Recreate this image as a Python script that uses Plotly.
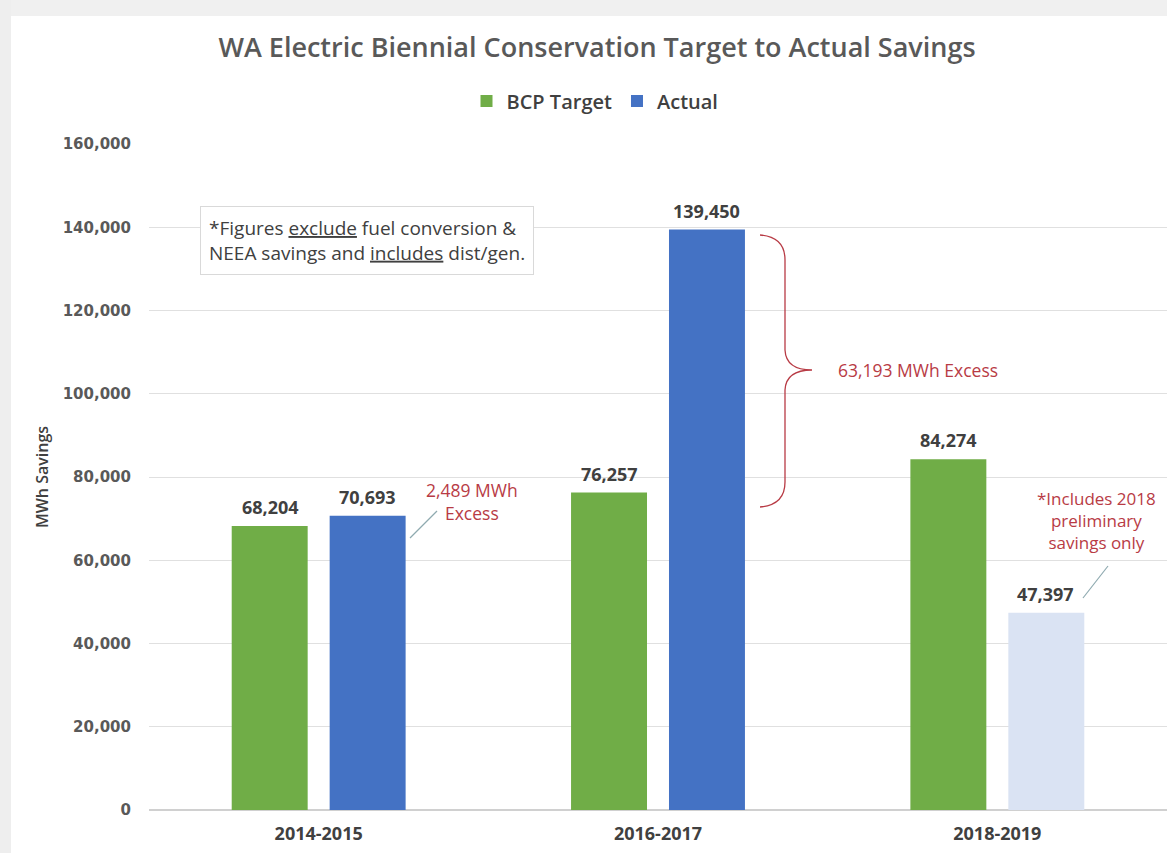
import plotly.graph_objects as go

# ---- data ----
periods = ["2014-2015", "2016-2017", "2018-2019"]
bcp_target = [68204, 76257, 84274]
actual = [70693, 139450, 47397]
actual_colors = ["#4472c4", "#4472c4", "#dae3f3"]
y_ticks = [0, 20000, 40000, 60000, 80000, 100000, 120000, 140000, 160000]

W, H = 1167, 853
L, R, T, B = 149, 0, 144, 43
PW, PH = W - L - R, H - T - B


def px(x):
    return (x - L) / PW


def py(y):
    return (H - B - y) / PH


FONT = "Open Sans"
DARK = "#404040"
RED = "#b83b45"

fig = go.Figure()
fig.add_trace(go.Bar(name="BCP Target", x=periods, y=bcp_target,
                     marker=dict(color="#70ad47", line=dict(width=0))))
fig.add_trace(go.Bar(name="Actual", x=periods, y=actual,
                     marker=dict(color=actual_colors, line=dict(width=0))))

annotations = []
# value labels above bars
for vals, shift in ((bcp_target, -48.5), (actual, 48.5)):
    for p, v in zip(periods, vals):
        annotations.append(dict(x=p, y=v, xref="x", yref="y", text=f"<b>{v:,}</b>",
                                showarrow=False, xshift=shift, yshift=19,
                                xanchor="center", yanchor="middle",
                                font=dict(family=FONT, size=18, color=DARK)))

annotations += [
    dict(xref="paper", yref="paper", x=px(200), y=py(240), xanchor="left", yanchor="middle",
         text="*Figures <u>exclude</u> fuel conversion &amp;<br>NEEA savings and <u>includes</u> dist/gen.",
         align="left", showarrow=False, bordercolor="#d9d9d9", borderwidth=1, borderpad=8,
         bgcolor="white", font=dict(family=FONT, size=19, color=DARK)),
    dict(xref="paper", yref="paper", x=px(472), y=py(501), xanchor="center", yanchor="middle",
         text="2,489 MWh<br>Excess",
         showarrow=False, font=dict(family=FONT, size=17.5, color=RED)),
    dict(xref="paper", yref="paper", x=px(836), y=py(370), xanchor="left", yanchor="middle",
         text="63,193 MWh Excess", showarrow=False, font=dict(family=FONT, size=17.5, color=RED)),
    dict(xref="paper", yref="paper", x=px(1096), y=py(520), xanchor="center", yanchor="middle",
         text="*Includes 2018<br>preliminary<br>savings only",
         showarrow=False, font=dict(family=FONT, size=17, color=RED)),
]

brace = (f"M {px(760)},{py(235)} Q {px(785)},{py(237)} {px(785)},{py(260)} "
         f"L {px(785)},{py(350)} Q {px(786)},{py(370)} {px(812)},{py(370)} "
         f"Q {px(786)},{py(370)} {px(785)},{py(390)} "
         f"L {px(785)},{py(482)} Q {px(785)},{py(505)} {px(760)},{py(507)}")

shapes = [
    # page shadow / border
    dict(type="rect", xref="paper", yref="paper", x0=px(0), x1=px(W), y0=py(16), y1=py(0),
         fillcolor="#f0f0f0", line=dict(width=0), layer="below"),
    dict(type="rect", xref="paper", yref="paper", x0=px(0), x1=px(11), y0=py(H), y1=py(0),
         fillcolor="#eeeeee", line=dict(width=0), layer="below"),
    dict(type="path", xref="paper", yref="paper", path=brace,
         line=dict(color=RED, width=1.3)),
    dict(type="line", xref="paper", yref="paper", x0=px(410), y0=py(538), x1=px(437), y1=py(511),
         line=dict(color="#8faab0", width=1.2)),
    dict(type="line", xref="paper", yref="paper", x0=px(1083), y0=py(598), x1=px(1108), y1=py(566),
         line=dict(color="#8faab0", width=1.2)),
]

fig.update_layout(
    width=W, height=H,
    margin=dict(l=L, r=R, t=T, b=B, autoexpand=False),
    paper_bgcolor="white", plot_bgcolor="white",
    barmode="group", bargap=0.4227, bargroupgap=0.2245,
    title=dict(text="WA Electric Biennial Conservation Target to Actual Savings",
               x=597 / W, xref="container", xanchor="center",
               y=1 - 48 / H, yref="container", yanchor="middle",
               font=dict(family=FONT, size=27, color="#595959", weight=600)),
    legend=dict(orientation="h", xref="container", yref="container",
                x=595 / W, xanchor="center", y=1 - 101 / H, yanchor="middle",
                font=dict(family=FONT, size=20, color=DARK, weight=600),
                itemwidth=30, tracegroupgap=0, bgcolor="rgba(0,0,0,0)"),
    xaxis=dict(type="category", showgrid=False, showline=False, ticks="",
               tickfont=dict(family=FONT, size=18, color=DARK, weight="bold"),
               ticklabelstandoff=11),
    yaxis=dict(range=[0, 160000], tickvals=y_ticks, tickformat=",",
               showgrid=True, gridcolor="#e0e0e0", gridwidth=1,
               zeroline=True, zerolinecolor="#d0d0d0", zerolinewidth=1.5,
               showline=False, ticks="",
               tickfont=dict(family="DejaVu Sans", size=15, color="#595959", weight="bold"),
               ticklabelstandoff=17,
               title=dict(text="MWh Savings", standoff=10,
                          font=dict(family=FONT, size=16, color=DARK, weight=600))),
    annotations=annotations,
    shapes=shapes,
)

fig.write_html("out.html")
